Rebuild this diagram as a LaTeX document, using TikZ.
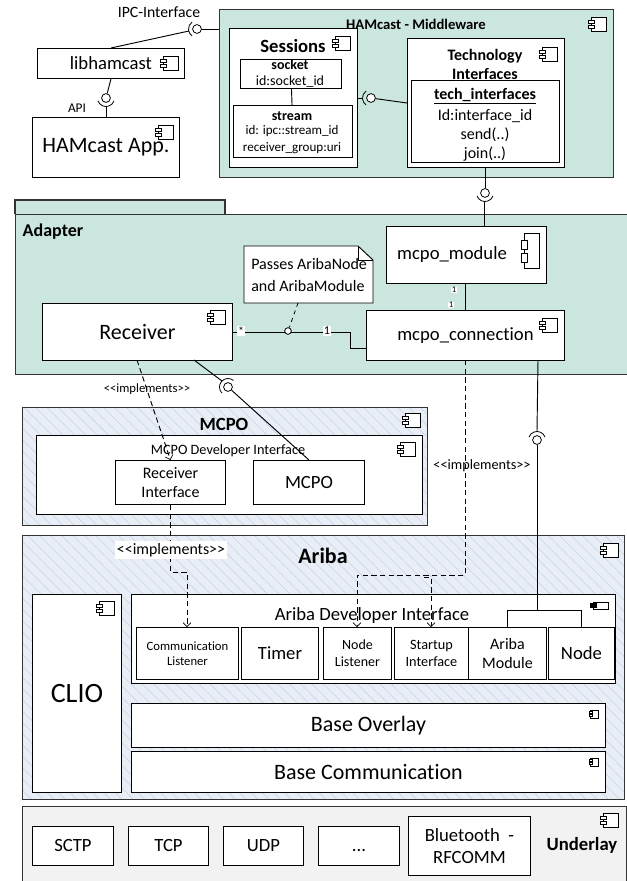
\documentclass[tikz,border=0pt]{standalone}
\usepackage{fontspec}
\setmainfont{Carlito}[Ligatures=NoCommon]
\usepackage{tikz}
\usetikzlibrary{arrows.meta}
\usetikzlibrary{patterns.meta}
\definecolor{tealfill}{HTML}{CBE6DF}
\definecolor{hatchbase}{HTML}{E9EEF6}
\definecolor{hatchline}{HTML}{C6D3E4}
\definecolor{greyfill}{HTML}{F2F2F2}
\definecolor{edgegrey}{HTML}{333333}
\newcommand{\impl}{<{}<implements>{}>}
\tikzset{
  fs/.style={font=\fontsize{#1}{#1}\selectfont\setlength{\baselineskip}{1.2em}},
  sz/.style 2 args={minimum width=#1*0.75pt,minimum height=#2*0.75pt},
  plainbox/.style={draw=black,fill=white,line width=0.7pt,inner sep=0pt,anchor=north west,align=center},
  heavybox/.style={plainbox,line width=1pt},
  groupbox/.style={draw=edgegrey,line width=0.9pt,inner sep=0pt,anchor=north west},
  tealbox/.style={groupbox,fill=tealfill},
  hatchbox/.style={groupbox,preaction={fill=hatchbase},
    pattern={Lines[angle=-45,distance=6pt,line width=0.4pt]},pattern color=hatchline},
  greybox/.style={groupbox,fill=greyfill},
  txt/.style={inner sep=0pt,align=center},
  ball/.style={draw=black,fill=white,circle,line width=0.6pt,inner sep=0pt,minimum size=6.6pt},
  wire/.style={line width=0.7pt},
  dashwire/.style={line width=0.7pt,dash pattern=on 4pt off 2.5pt},
  realize/.style={dashwire,-{Straight Barb[length=3pt,width=6pt,line width=0.5pt]}},
  compicon/.pic={
    \draw[line width=0.6pt,fill=white] (3,0) -- (18,0) -- (18,14) -- (3,14) -- cycle;
    \draw[line width=0.6pt,fill=white] (0,3) rectangle (6,6.5);
    \draw[line width=0.6pt,fill=white] (0,8) rectangle (6,11.5);
  }
}
\newcommand{\socketarc}[3]{\draw[line width=0.6pt] ([shift={(#2:6.4pt)}]#1.center) arc[start angle=#2,end angle=#3,radius=6.4pt];}

\begin{document}
\begin{tikzpicture}[x=0.75pt,y=-0.75pt]
\useasboundingbox (0,0) rectangle (626,881);

% middleware
\node[tealbox,sz={394}{168}] (middleware) at (219,9) {};
\node[txt,font=\fontsize{11}{13}\selectfont\bfseries] (middlewaretitle) at (416,24) {HAMcast - Middleware};
\pic at (588,17) {compicon};
\node[heavybox,sz={128}{139}] (sessions) at (229,28) {};
\node[txt,font=\fontsize{14}{17}\selectfont\bfseries] (sessionstitle) at (293,46) {Sessions};
\pic at (332,36) {compicon};
\node[plainbox,sz={101}{29}] (socket) at (240,59) {};
\node[txt,font=\fontsize{10.5}{12}\selectfont\bfseries] (sockettitle) at (290,65) {socket};
\node[txt,fs=10.5] (socketid) at (290,82) {id:socket\_id};
\node[plainbox,sz={119}{52}] (stream) at (233,105) {};
\node[txt,font=\fontsize{10.5}{12}\selectfont\bfseries] (streamtitle) at (292,116) {stream};
\node[txt,fs=9.8] (streamid) at (292,131) {id: ipc::stream\_id};
\node[txt,fs=9.8] (streamgroup) at (292,148) {receiver\_group:uri};
\draw[wire] (socket) -- (stream);
\node[heavybox,sz={157}{129}] (tech) at (407,38) {};
\node[txt,font=\fontsize{12}{14.3}\selectfont\bfseries] (techtitle) at (485,64) {Technology\\Interfaces};
\pic at (539,47) {compicon};
\node[heavybox,sz={148}{82}] (techif) at (411,80) {};
\node[txt,font=\fontsize{12}{14}\selectfont\bfseries] (techiftitle) at (485,96) {\underline{tech\_interfaces}};
\node[txt,fs=12] (techifid) at (485,116) {Id:interface\_id};
\node[txt,fs=12] (techifsend) at (485,135) {send(..)};
\node[txt,fs=12] (techifjoin) at (485,154) {join(..)};

% clients
\node[plainbox,sz={147}{30},fs=14] (libhamcast) at (37,48) {libhamcast};
\pic at (160,56) {compicon};
\node[plainbox,sz={147}{60},fs=16.5] (app) at (32,117) {HAMcast App.};
\pic at (155,125) {compicon};
\node[txt,fs=11.8] (ipclabel) at (159,12) {IPC-Interface};
\node[txt,fs=10] (apilabel) at (77,108) {API};

% adapter
\draw[groupbox,fill=tealfill] (15,214) -- (15,200) -- (225,200) -- (225,214);
\node[tealbox,sz={612}{160}] (adapter) at (15,214) {};
\node[txt,font=\fontsize{13.5}{16}\selectfont\bfseries] (adapterlabel) at (53,232) {Adapter};
\node[plainbox,sz={160}{57}] (module) at (386,226) {};
\node[txt,fs=14] (moduletext) at (452,255) {mcpo\_module};
\pic[yscale=2.55] at (521,233) {compicon};
\node[plainbox,sz={198}{50},fs=14] (connection) at (366,310) {mcpo\_connection};
\pic at (539,318) {compicon};
\node[plainbox,sz={190}{57},fs=16.5] (receiver) at (42,303) {Receiver};
\pic at (207,310) {compicon};
\draw[plainbox] (244,246) -- (358,246) -- (373,260) -- (373,303) -- (244,303) -- cycle;
\draw[line width=0.7pt] (358,246) -- (358,260) -- (373,260);
\node[txt,font=\fontsize{12}{15.8}\selectfont,anchor=west,align=left] (notetext) at (251,275) {Passes AribaNode\\and AribaModule};
\coordinate (notefoot) at (298,303);

% mcpo
\node[hatchbox,sz={405}{118}] (mcpobox) at (22,407) {};
\node[txt,font=\fontsize{14}{17}\selectfont\bfseries] (mcpotitle) at (224,424) {MCPO};
\pic at (402,413) {compicon};
\node[plainbox,sz={386}{79}] (mcpodev) at (36,435) {};
\node[txt,fs=10.7] (mcpodevtext) at (228,451) {MCPO Developer Interface};
\pic at (397,442) {compicon};
\node[plainbox,sz={110}{44},fs=12] (receiverif) at (115,460) {Receiver\\Interface};
\node[plainbox,sz={111}{44},fs=14] (mcpoif) at (253,460) {MCPO};

% ariba
\node[hatchbox,sz={602}{264}] (aribabox) at (22,535) {};
\node[txt,font=\fontsize{16.5}{20}\selectfont\bfseries] (aribatitle) at (323,556) {Ariba};
\pic at (600,543) {compicon};
\node[plainbox,sz={89}{198},fs=21] (clio) at (32,594) {CLIO};
\pic at (96,601) {compicon};
\node[plainbox,sz={484}{89}] (aribadev) at (131,594) {};
\node[txt,fs=14] (aribadevtext) at (372,616) {Ariba Developer Interface};
\pic[yscale=0.5] at (590,602) {compicon};
\fill[black] (590,603) rectangle (596,608);
\node[plainbox,sz={102}{52},fs=9.5] (commlistener) at (136,627) {Communication\\Listener};
\node[plainbox,sz={77}{52},fs=14] (timer) at (241,627) {Timer};
\node[plainbox,sz={68}{52},fs=10.5] (nodelistener) at (323,627) {Node\\Listener};
\node[plainbox,sz={74}{52},fs=10.7] (startup) at (394,627) {Startup\\Interface};
\node[plainbox,sz={78}{52},fs=12] (aribamodule) at (468,627) {Ariba\\Module};
\node[plainbox,sz={66}{52},fs=14] (nodeif) at (548,627) {Node};
\node[plainbox,sz={474}{44},fs=16.5] (overlay) at (131,703) {Base Overlay};
\pic[xscale=0.5,yscale=0.57] at (589,710) {compicon};
\node[plainbox,sz={474}{41},fs=16.5] (basecomm) at (131,751) {Base Communication};
\pic[xscale=0.5,yscale=0.57] at (589,758) {compicon};

% underlay
\node[greybox,sz={604}{75}] (underlay) at (22,806) {};
\node[plainbox,sz={81}{39},fs=14] (sctp) at (32,826) {SCTP};
\node[plainbox,sz={80}{39},fs=14] (tcp) at (128,826) {TCP};
\node[plainbox,sz={80}{39},fs=14] (udp) at (223,826) {UDP};
\node[plainbox,sz={81}{39},fs=14] (dots) at (318,826) {\vphantom{TCP}...};
\node[plainbox,sz={122}{59},fs=14] (bluetooth) at (408,816) {Bluetooth~ -\\RFCOMM};
\node[txt,font=\fontsize{14}{17}\selectfont\bfseries] (underlaylabel) at (582,845) {Underlay};
\pic at (600,813) {compicon};

% sockets
\node[ball] (ipcball) at (197,29) {};
\socketarc{ipcball}{125}{235}
\coordinate (ipcarc) at (189,31);
\draw[wire] (libhamcast.north) -- (ipcarc);
\draw[wire] (ipcball) -- (ipcball -| middleware.west);
\node[ball] (apiball) at (106,98) {};
\socketarc{apiball}{200}{340}
\coordinate (apiarc) at (106,107);
\draw[wire] (libhamcast.south) -- (apiball);
\draw[wire] (apiarc) -- (apiarc |- app.north);
\node[ball] (techball) at (371,98) {};
\socketarc{techball}{125}{235}
\coordinate (techarc) at (362,98);
\draw[wire] (techarc -| sessions.east) -- (techarc);
\draw[wire] (techball) -- (407,103);
\node[ball] (moduleball) at (485,193) {};
\socketarc{moduleball}{200}{340}
\coordinate (modulearc) at (484,202);
\draw[wire] (tech.south -| moduleball) -- (moduleball);
\draw[wire] (modulearc) -- (484,226);
\node[ball] (mcpoball) at (228,387) {};
\socketarc{mcpoball}{50}{225}
\coordinate (mcpoarc) at (222,381);
\draw[wire] (194,360) -- (mcpoarc);
\draw[wire] (mcpoball) -- (mcpoif.north);
\node[ball] (aribaball) at (537,440) {};
\socketarc{aribaball}{20}{160}
\coordinate (aribaarc) at (537,431);
\draw[wire] (538,360) -- (aribaarc);
\coordinate (aribafork) at (537,610);
\draw[wire] (aribaball) -- (aribafork);
\draw[wire] (aribamodule.north) -- (aribamodule.north |- aribafork) -- (nodeif.north |- aribafork) -- (nodeif.north);

% associations
\coordinate (moduleleg) at (465,290);
\draw[wire] (module.south -| moduleleg) -- (connection.north -| moduleleg);
\node[fill=white,inner sep=0.5pt,fs=6.5] (one) at (454,290) {1};
\node[fill=white,inner sep=0.5pt,fs=6.5] (onetwo) at (451,305) {1};
\coordinate (notejoin) at (288,331);
\coordinate (connbend) at (350,348);
\draw[wire] (receiver.east) -- (connbend |- receiver.east) -- (connbend) -- (connection.west |- connbend);
\node[draw=black,fill=white,circle,inner sep=0pt,minimum size=5pt,line width=0.6pt] (joinball) at (notejoin) {};
\draw[line width=0.6pt,dashed] (notefoot) -- (joinball);
\node[fill=white,inner sep=0.5pt,fs=9] (star) at (241,331) {*};
\node[fill=white,inner sep=0.5pt,fs=9] (onethree) at (327,331) {1};

% realizations
\draw[realize] (137,360) -- (receiverif.north);
\node[txt,fs=9.5] (impla) at (147,389) {\impl};
\coordinate (bendb) at (187,572);
\draw[realize] (receiverif.south) -- (receiverif.south |- bendb) -- (bendb) -- (bendb |- commlistener.north);
\node[fill=white,inner sep=1.5pt,fs=11.9] (implb) at (171,550) {\impl};
\coordinate (bendc) at (357,575);
\coordinate (bendd) at (431,577);
\draw[realize] (465,360) -- (465,575) -- (bendc) -- (bendc |- nodelistener.north);
\draw[realize] (424,577) -- (bendd) -- (bendd |- startup.north);
\node[txt,fs=10.7] (implc) at (482,466) {\impl};
\end{tikzpicture}
\end{document}
